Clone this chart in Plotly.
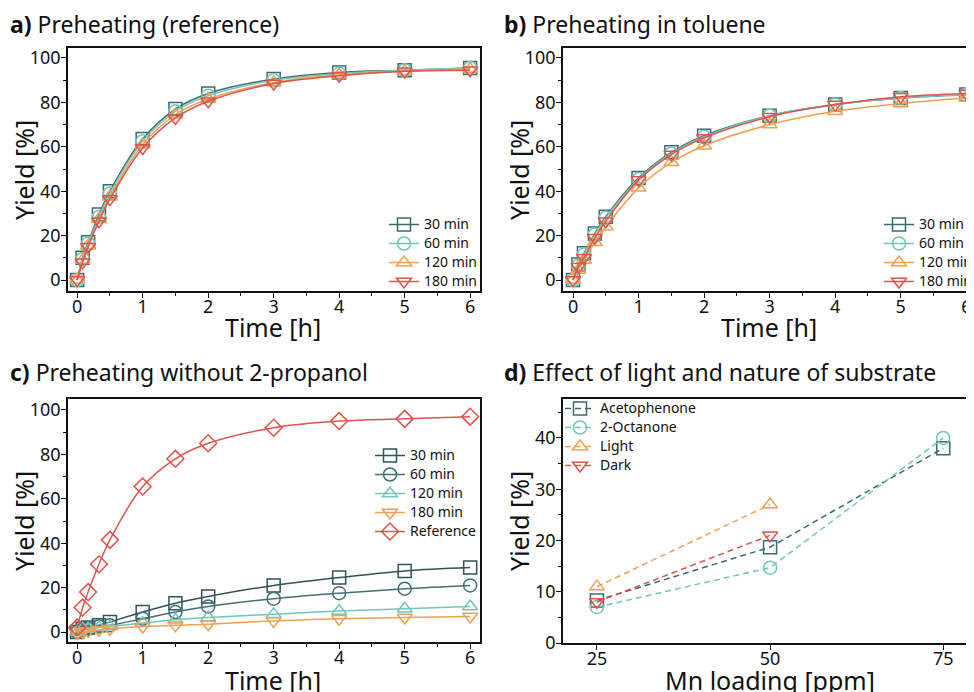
import plotly.graph_objects as go

W, H = 974, 692
OFF = 8  # page body margin in the browser
FONT = "Noto Sans"

# ---------------- data ----------------
t = [0, 0.083, 0.167, 0.333, 0.5, 1, 1.5, 2, 3, 4, 5, 6]

a_30 = [0, 10, 17, 29.5, 40, 63.5, 77, 84, 90.5, 93.5, 94.5, 95.5]
a_60 = [0, 9.5, 16.5, 28.5, 39, 62.5, 76, 83, 90, 93, 94.5, 95.5]
a_120 = [0, 9, 15.5, 27.5, 37.5, 61, 74.5, 81.5, 89, 92.5, 94, 95]
a_180 = [0, 8, 15, 26.5, 36.5, 59.5, 73, 80.5, 88.5, 92, 94, 94.5]

b_30 = [0, 7, 12, 21, 28.5, 46, 57.5, 65, 74, 79, 82, 83.5]
b_60 = [0, 6.5, 11.5, 20.5, 28, 45.5, 57, 64.5, 74, 79, 82, 83.5]
b_120 = [0, 4.5, 9, 17, 24, 41.5, 53, 60.5, 70, 76, 79.5, 82]
b_180 = [0, 6, 10, 19, 26.5, 45, 56.5, 64, 73.5, 79, 82.5, 84]

c_30 = [0, 1.5, 2, 3, 4.5, 9, 13, 16, 21, 24.5, 27.5, 29]
c_60 = [0, 1, 1.5, 2.5, 3, 6, 9, 11.5, 15, 17.5, 19.5, 21]
c_120 = [0, 1.5, 1.5, 2, 2.5, 4, 5.5, 6.5, 8, 9.5, 10.5, 11.5]
c_180 = [-0.5, 0, 0.5, 1, 1.5, 2.5, 3, 3.5, 5, 6, 6.5, 7]
c_ref = [2, 11, 18, 30.5, 41.5, 65.5, 78, 85, 92, 95, 96, 97]

mn = [25, 50, 75]
d_aceto = [8.3, 18.7, 38]
d_octa = [7, 14.7, 40]
mn_ld = [25, 50]
d_light = [11, 27]
d_dark = [8, 21]

ab_names = ["30 min", "60 min", "120 min", "180 min"]
c_names = ["30 min", "60 min", "120 min", "180 min", "Reference"]
d_names = ["Acetophenone", "2-Octanone", "Light", "Dark"]

titles = ["<b>a)</b> Preheating (reference)", "<b>b)</b> Preheating in toluene",
          "<b>c)</b> Preheating without 2-propanol", "<b>d)</b> Effect of light and nature of substrate"]
x_titles = ["Time [h]", "Time [h]", "Time [h]", "Mn loading [ppm]"]
y_title = "Yield [%]"

# ---------------- styles ----------------
DARK = "#3a6b70"
LTEAL = "#72c6bc"
ORANGE = "#f0a04e"
RED = "#e0524a"
DARK2 = "#2f5356"
MID = "#3f7078"

ab_colors = [DARK, LTEAL, ORANGE, RED]
ab_symbols = ["square-open", "circle-open", "triangle-up-open", "triangle-down-open"]
c_colors = [DARK2, MID, LTEAL, ORANGE, RED]
c_symbols = ["square-open", "circle-open", "triangle-up-open", "triangle-down-open", "diamond-open"]
d_colors = [DARK, LTEAL, ORANGE, RED]

LEG_TXT = 14

fig = go.Figure()

# screen pixel -> paper fraction (the page puts the figure 8px in from the corner)
def PX(x):
    return (x - OFF) / W

def PY(y):
    return 1 - (y - OFF) / H

def px_dom(x0, x1):
    return [PX(x0), min(PX(x1), 1.0)]

def py_dom(top, bottom):
    return [PY(bottom), PY(top)]

def add_series(xs, ys, name, color, symbol, xa, ya, legend, size=13, dash=None, shape="spline"):
    fig.add_trace(go.Scatter(
        x=xs, y=ys, name=f"<span style='font-size:{LEG_TXT}px'>{name}</span>", mode="lines+markers",
        line=dict(color=color, width=1.5, shape=shape, dash=dash),
        marker=dict(symbol=symbol, size=size, color=color, line=dict(width=1.5, color=color)),
        xaxis=xa, yaxis=ya, legend=legend))

for ys, n, c, s in zip([a_30, a_60, a_120, a_180], ab_names, ab_colors, ab_symbols):
    add_series(t, ys, n, c, s, "x", "y", "legend")
for ys, n, c, s in zip([b_30, b_60, b_120, b_180], ab_names, ab_colors, ab_symbols):
    add_series(t, ys, n, c, s, "x2", "y2", "legend2")
for ys, n, c, s in zip([c_30, c_60, c_120, c_180, c_ref], c_names, c_colors, c_symbols):
    add_series(t, ys, n, c, s, "x3", "y3", "legend3")
for xs, ys, n, c, s in zip([mn, mn, mn_ld, mn_ld], [d_aceto, d_octa, d_light, d_dark], d_names, d_colors, ab_symbols):
    add_series(xs, ys, n, c, s, "x4", "y4", "legend4", dash="6px,4px", shape="linear")

tickfont = dict(family=FONT, size=18, color="#111")
titlefont = dict(family=FONT, size=25, color="#111")

def xaxis(dom, rng, anchor, dtick, minor=True, tickvals=None):
    d = dict(domain=dom, range=rng, anchor=anchor, showline=True, linecolor="#111", linewidth=1.5,
             mirror=True, ticks="outside", ticklen=5, tickwidth=1.2, tickcolor="#111",
             showgrid=False, zeroline=False, tickfont=tickfont, automargin=False,
             ticklabelstandoff=-6)
    if tickvals is not None:
        d["tickvals"] = tickvals
    else:
        d["dtick"] = dtick
        d["tick0"] = 0
    if minor:
        d["minor"] = dict(dtick=dtick / 2, ticks="outside", ticklen=3, tickcolor="#111", showgrid=False)
    return d

def yaxis(dom, rng, anchor, dtick):
    return dict(domain=dom, range=rng, anchor=anchor, showline=True, linecolor="#111", linewidth=1.5,
                mirror=True, ticks="outside", ticklen=5, tickwidth=1.2, tickcolor="#111",
                showgrid=False, zeroline=False, tickfont=tickfont, dtick=dtick, tick0=0, automargin=False,
                ticklabelstandoff=-3,
                minor=dict(dtick=dtick / 2, ticks="outside", ticklen=3, tickcolor="#111", showgrid=False))

fig.update_layout(
    width=W, height=H, margin=dict(l=0, r=0, t=0, b=0, autoexpand=False),
    paper_bgcolor="white", plot_bgcolor="white",
    font=dict(family=FONT, color="#111"),
    xaxis=xaxis(px_dom(68, 480), [-0.14, 6.15], "y", 1),
    yaxis=yaxis(py_dom(48, 291), [-4.95, 104.5], "x", 20),
    xaxis2=xaxis(px_dom(563, 982), [-0.153, 6.24], "y2", 1),
    yaxis2=yaxis(py_dom(48, 291), [-4.95, 104.5], "x2", 20),
    xaxis3=xaxis(px_dom(68, 480), [-0.14, 6.15], "y3", 1),
    yaxis3=yaxis(py_dom(399, 642), [-4.5, 104.95], "x3", 20),
    xaxis4=xaxis(px_dom(563, 982), [20.1, 80.6], "y4", 25, minor=False, tickvals=mn),
    yaxis4=yaxis(py_dom(399, 643), [0, 47.6], "x4", 10),
)

legfont = dict(family=FONT, size=12, color="#111")
common_leg = dict(font=legfont, bgcolor="rgba(0,0,0,0)", tracegroupgap=0, itemwidth=30,
                  yanchor="top")
fig.update_layout(
    legend=dict(x=PX(384), y=PY(210), xanchor="left", **common_leg),
    legend2=dict(x=PX(978), y=PY(210), xanchor="right", **common_leg),
    legend3=dict(x=PX(370), y=PY(441), xanchor="left", **common_leg),
    legend4=dict(x=PX(560), y=PY(394), xanchor="left", **common_leg),
)

# panel titles
title_pos = [(8, 24), (502, 24), (8, 372), (502, 372)]
for txt, (x, y) in zip(titles, title_pos):
    fig.add_annotation(text=txt, x=PX(x), y=PY(y), xref="paper", yref="paper",
                       xanchor="left", yanchor="middle", showarrow=False,
                       font=dict(family=FONT, size=23, color="#111"))

# axis titles
xt_pos = [(273, 327), (769, 327), (273, 680), (770, 680)]
for txt, (x, y) in zip(x_titles, xt_pos):
    fig.add_annotation(text=txt, x=PX(x), y=PY(y), xref="paper", yref="paper",
                       xanchor="center", yanchor="middle", showarrow=False, font=titlefont)
yt_pos = [(24, 170), (519, 170), (24, 521), (519, 521)]
for x, y in yt_pos:
    fig.add_annotation(text=y_title, x=PX(x), y=PY(y), xref="paper", yref="paper", textangle=-90,
                       xanchor="center", yanchor="middle", showarrow=False, font=titlefont)

fig.write_html("out.html")
